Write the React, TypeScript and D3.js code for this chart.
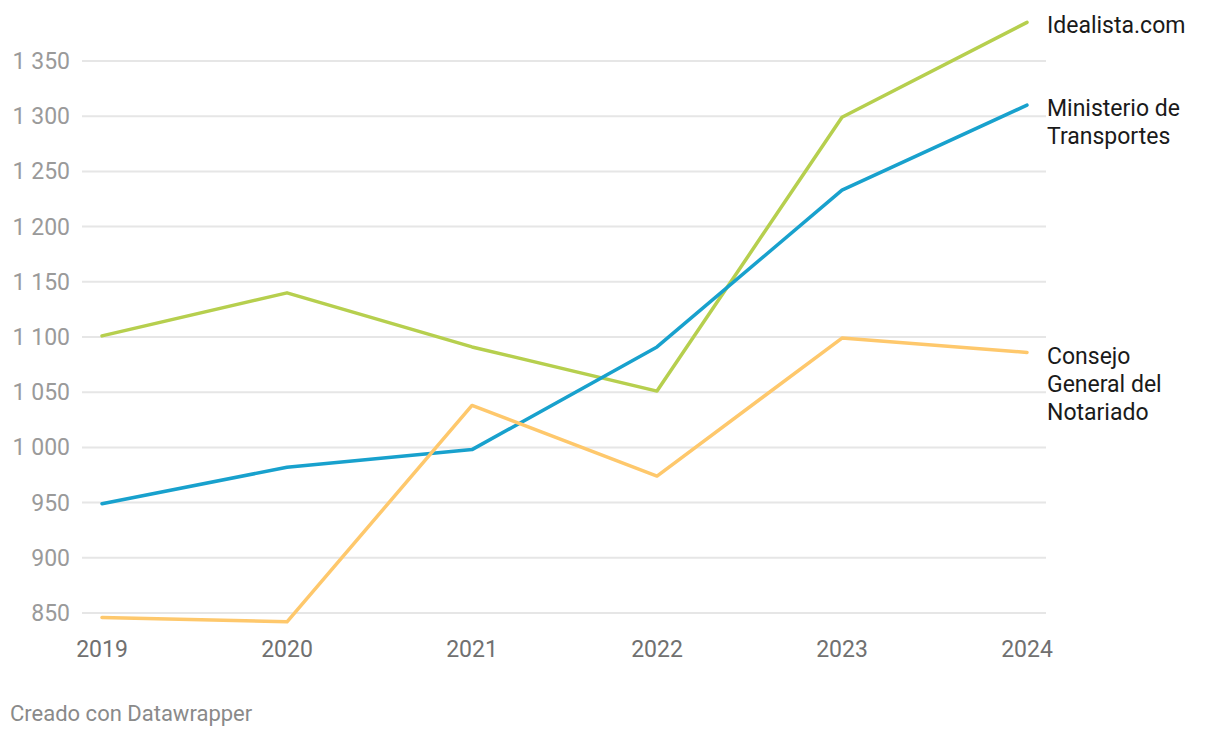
import React from 'react'
import * as d3 from 'd3'

const years = [2019, 2020, 2021, 2022, 2023, 2024]
const idealista = [1101, 1140, 1091, 1051, 1299, 1385]
const ministerio = [949, 982, 998, 1091, 1233, 1310]
const consejo = [846, 842, 1038, 974, 1099, 1086]
const yTicks = [850, 900, 950, 1000, 1050, 1100, 1150, 1200, 1250, 1300, 1350]

const series = [
  { name: ['Idealista.com'], values: idealista, color: '#b6cf4e' },
  { name: ['Ministerio de', 'Transportes'], values: ministerio, color: '#18a1cd' },
  { name: ['Consejo', 'General del', 'Notariado'], values: consejo, color: '#fec86c' },
]

const width = 1220
const height = 738
const fmt = (v: number) => d3.format(',')(v).replace(',', ' ')

export default function App() {
  const x = d3.scalePoint<number>().domain(years).range([102, 1027])
  const y = d3.scaleLinear().domain([850, 1350]).range([613, 61])
  const line = d3.line<number>()
    .x((_, i) => x(years[i]) as number)
    .y(d => y(d))

  return (
    <svg width={width} height={height} style={{ position: 'absolute', left: 0, top: 0, fontFamily: 'Roboto, sans-serif' }}>
      <rect width={width} height={height} fill="#fff" />
      {yTicks.map(t => (
        <g key={t}>
          <line x1={82} x2={1046} y1={y(t)} y2={y(t)} stroke="#e6e6e6" strokeWidth={2} />
          <text x={70} y={y(t)} dy="0.35em" textAnchor="end" fontSize={23} fill="#9a9a9a">{fmt(t)}</text>
        </g>
      ))}
      {years.map(yr => (
        <text key={yr} x={x(yr)} y={657} textAnchor="middle" fontSize={23} fill="#707070">{yr}</text>
      ))}
      {series.map(s => (
        <path key={s.color} d={line(s.values) || ''} fill="none" stroke={s.color} strokeWidth={3.5} strokeLinejoin="round" strokeLinecap="round" />
      ))}
      {series.map(s => {
        const last = s.values[s.values.length - 1]
        return (
          <text key={s.name[0]} x={1047} y={y(last) + 3} fontSize={23} fill="#1a1a1a">
            {s.name.map((n, i) => (
              <tspan key={n} x={1047} dy={i === 0 ? '0.35em' : 28}>{n}</tspan>
            ))}
          </text>
        )
      })}
      <text x={10} y={721} fontSize={22} fill="#8a8a8a">Creado con Datawrapper</text>
    </svg>
  )
}
